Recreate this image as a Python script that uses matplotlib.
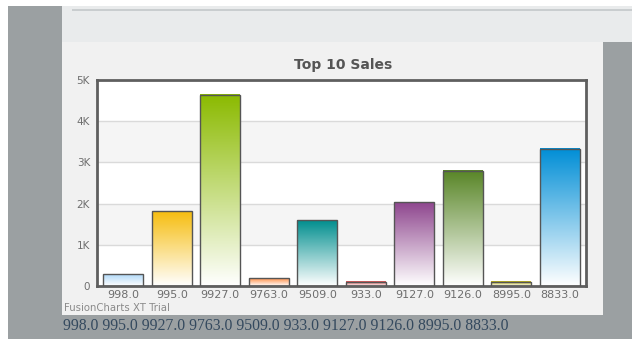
import numpy as np
import matplotlib
matplotlib.use("Agg")
import matplotlib.pyplot as plt
from matplotlib.colors import LinearSegmentedColormap
from matplotlib.patches import Rectangle

# chart data
labels = ["998.0", "995.0", "9927.0", "9763.0", "9509.0",
          "933.0", "9127.0", "9126.0", "8995.0", "8833.0"]
sales = [280, 1820, 4640, 190, 1590, 100, 2030, 2800, 100, 3330]
colors = ["#AFD8F8", "#F6BD0F", "#8BBA00", "#FF8E46", "#008E8E",
          "#D64646", "#8E468E", "#588526", "#B3AA00", "#008ED6"]
yticks = [0, 1000, 2000, 3000, 4000, 5000]
ytick_labels = ["0", "1K", "2K", "3K", "4K", "5K"]

W, H = 632, 339
fig = plt.figure(figsize=(W / 100, H / 100), dpi=100)
fig.patch.set_facecolor("white")

def px_rect(x0, y0, x1, y1, color):
    # rectangle in pixel coords (top-left origin)
    fig.patches.append(Rectangle((x0 / W, 1 - y1 / H), (x1 - x0) / W, (y1 - y0) / H,
                                 transform=fig.transFigure, facecolor=color,
                                 edgecolor="none", zorder=-5))

px_rect(8, 6, W, H, "#9ba0a2")          # page gray
px_rect(62, 6, W, 42, "#e9ebec")         # top panel
px_rect(72, 9, W, 11, "#c9cdcf")         # line in top panel
px_rect(62, 42, 603, 315, "#f1f1f1")     # chart panel

ax = fig.add_axes([97 / W, 1 - 286 / H, 489 / W, 206 / H])
ax.set_zorder(5)
ax.set_facecolor("white")

# alternating bands + grid
for lo in (1000, 3000):
    ax.axhspan(lo, lo + 1000, color="#f5f5f5", zorder=0, lw=0)
for y in yticks[1:-1]:
    ax.axhline(y, color="#dadada", lw=1, zorder=1)

bw = 0.82
grad = np.linspace(0, 1, 256).reshape(-1, 1)
for i, (v, c) in enumerate(zip(sales, colors)):
    cmap = LinearSegmentedColormap.from_list("g%d" % i, ["#ffffff", c])
    ax.imshow(grad, cmap=cmap, origin="lower", aspect="auto",
              extent=(i - bw / 2, i + bw / 2, 0, v), zorder=2)
    ax.add_patch(Rectangle((i - bw / 2, 0), bw, v, facecolor="none",
                           edgecolor="#555555", lw=1.0, zorder=3))
ax.set_xlim(-0.54, len(sales) - 0.46)
ax.set_ylim(0, 5000)

for s in ax.spines.values():
    s.set_color("#5f5f5f")
    s.set_linewidth(2)

ax.set_xticks(range(len(labels)))
ax.set_xticklabels(labels)
ax.set_yticks(yticks)
ax.set_yticklabels(ytick_labels)
ax.tick_params(axis="both", length=0, labelcolor="#6e6e6e")
ax.tick_params(axis="x", pad=3, labelsize=8)
ax.tick_params(axis="y", pad=5, labelsize=7.5)

fig.text(343 / W, 1 - 65 / H, "Top 10 Sales", ha="center", va="center",
         fontsize=10, fontweight="bold", color="#555555")
fig.text(64 / W, 1 - 308 / H, "FusionCharts XT Trial", ha="left", va="center",
         fontsize=7.3, color="#8a8a8a")
fig.text(63 / W, 1 - 326 / H, " ".join(labels), ha="left", va="center",
         fontsize=11.3, color="#34495e", family="Liberation Serif")

fig.savefig("out.png", dpi=100)
